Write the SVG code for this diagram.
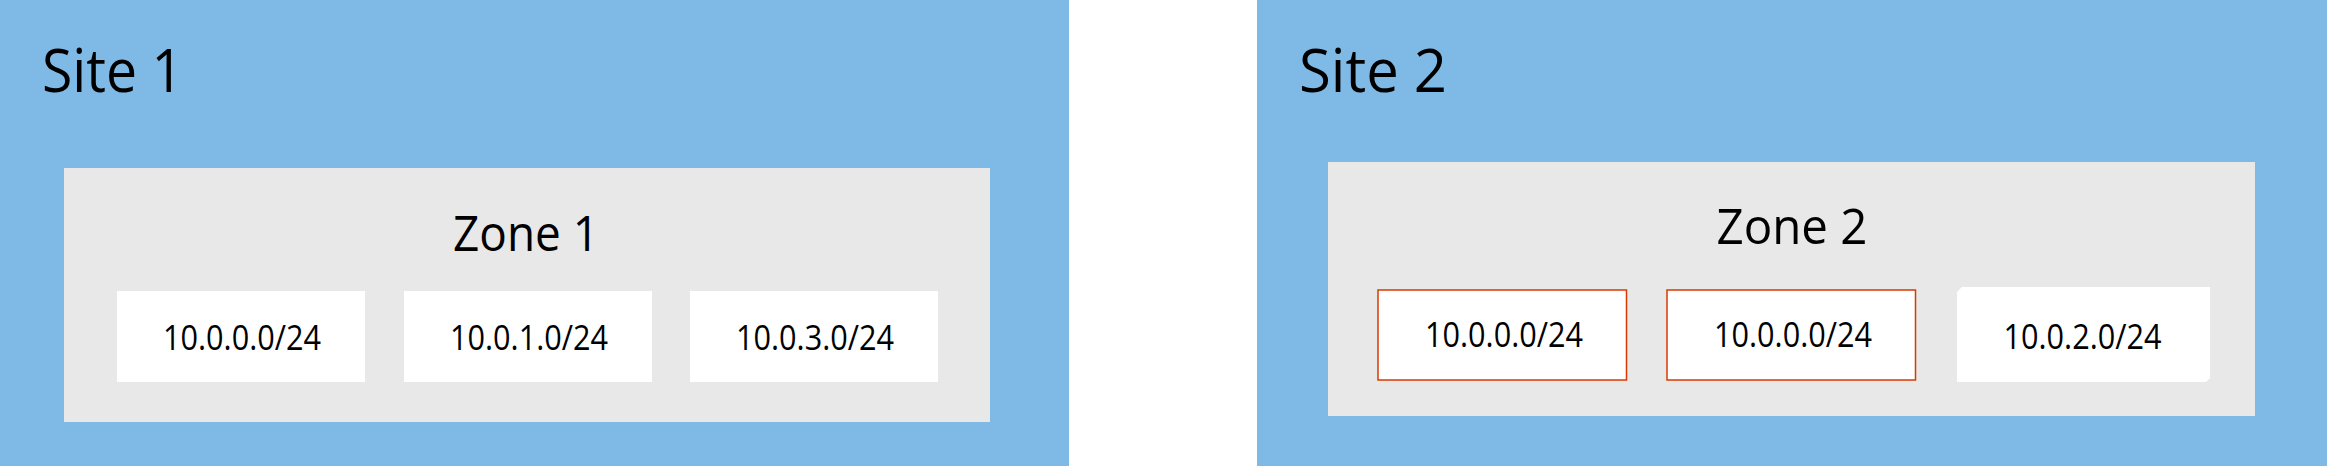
<svg xmlns="http://www.w3.org/2000/svg" width="2327" height="466" viewBox="0 0 2327 466">
  <style>
    .site { fill: #7FBAE7; }
    .zone { fill: #E8E8E8; }
    .subnet { fill: #FFFFFF; }
    .conflict { fill: #FFFFFF; stroke: #D83B01; stroke-width: 1.5; }
    text { font-family: "Open Sans", "Noto Sans", "Liberation Sans", sans-serif; fill: #000000; }
    .site-label { font-size: 61px; }
    .zone-label { font-size: 49px; text-anchor: middle; }
    .ip { font-size: 35px; text-anchor: middle; }
  </style>
  <rect x="0" y="0" width="2327" height="466" fill="#FFFFFF"/>
  <g id="site1">
    <rect class="site" x="0" y="0" width="1069" height="466"/>
    <text class="site-label" x="42" y="92" textLength="141" lengthAdjust="spacingAndGlyphs">Site 1</text>
  </g>
  <g id="zone1">
    <rect class="zone" x="64" y="168" width="926" height="254"/>
    <text class="zone-label" x="526" y="250.5" textLength="146" lengthAdjust="spacingAndGlyphs">Zone 1</text>
  </g>
  <g id="subnet1-0">
    <rect class="subnet" x="117" y="291" width="248" height="91"/>
    <text class="ip" x="242" y="350" textLength="158" lengthAdjust="spacingAndGlyphs">10.0.0.0/24</text>
  </g>
  <g id="subnet1-1">
    <rect class="subnet" x="404" y="291" width="248" height="91"/>
    <text class="ip" x="529" y="350" textLength="158" lengthAdjust="spacingAndGlyphs">10.0.1.0/24</text>
  </g>
  <g id="subnet1-3">
    <rect class="subnet" x="690" y="291" width="248" height="91"/>
    <text class="ip" x="815" y="350" textLength="158" lengthAdjust="spacingAndGlyphs">10.0.3.0/24</text>
  </g>
  <g id="site2">
    <rect class="site" x="1257" y="0" width="1070" height="466"/>
    <text class="site-label" x="1299" y="92" textLength="148" lengthAdjust="spacingAndGlyphs">Site 2</text>
  </g>
  <g id="zone2">
    <rect class="zone" x="1328" y="162" width="927" height="254"/>
    <text class="zone-label" x="1792" y="244" textLength="151" lengthAdjust="spacingAndGlyphs">Zone 2</text>
  </g>
  <g id="subnet2-0a">
    <rect class="conflict" x="1378" y="290" width="248.5" height="90"/>
    <text class="ip" x="1504" y="347.3" textLength="158" lengthAdjust="spacingAndGlyphs">10.0.0.0/24</text>
  </g>
  <g id="subnet2-0b">
    <rect class="conflict" x="1667" y="290" width="248.5" height="90"/>
    <text class="ip" x="1793" y="347.3" textLength="158" lengthAdjust="spacingAndGlyphs">10.0.0.0/24</text>
  </g>
  <g id="subnet2-2">
    <polygon class="subnet" points="1962,287 2210,287 2210,378 2206,382 1957,382 1957,292"/>
    <text class="ip" x="2082.5" y="349.3" textLength="158" lengthAdjust="spacingAndGlyphs">10.0.2.0/24</text>
  </g>
  <g id="connectors"></g>
</svg>
